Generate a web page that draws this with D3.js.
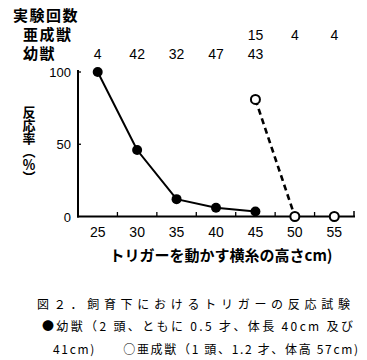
<!DOCTYPE html>
<html>
<head>
<meta charset="utf-8">
<script src="https://cdn.jsdelivr.net/npm/d3@7"></script>
<style>
  body { margin: 0; background: #fff; }
  svg { display: block; }
  text { fill: #000; }
</style>
</head>
<body>
<div id="chart"></div>
<script>
// trigger heights (cm) and response rate (%)
const heights = [25, 30, 35, 40, 45, 50, 55];
const juvenile = [
  { h: 25, v: 100 }, { h: 30, v: 46 }, { h: 35, v: 12 }, { h: 40, v: 6 }, { h: 45, v: 3.5 }
];
const subadult = [
  { h: 45, v: 81 }, { h: 50, v: 0 }, { h: 55, v: 0 }
];
// trial counts shown above the plot
const juvenileCounts = [[25, 4], [30, 42], [35, 32], [40, 47], [45, 43]];
const subadultCounts = [[45, 15], [50, 4], [55, 4]];
const yTicks = [0, 50, 100];

const W = 367, H = 360;
const jp = '"Noto Sans CJK JP", sans-serif';
const latin = '"Liberation Sans", Arial, sans-serif';

const svg = d3.select('#chart').append('svg')
  .attr('width', W)
  .attr('height', H);

const x = d3.scaleBand().domain(heights).range([78, 354]);
const y = d3.scaleLinear().domain([0, 100]).range([216.5, 72]);
const cx = h => x(h) + x.bandwidth() / 2;

// axes
const axis = svg.append('g').attr('stroke', '#000').attr('stroke-width', 2).attr('fill', 'none');
axis.append('line').attr('x1', 78).attr('x2', 78).attr('y1', 70).attr('y2', 217.5);
axis.append('line').attr('x1', 77).attr('x2', 355).attr('y1', 216.5).attr('y2', 216.5);

// x ticks at band boundaries, pointing up
heights.slice(1).forEach(h => {
  svg.append('line')
    .attr('x1', x(h)).attr('x2', x(h))
    .attr('y1', 216.5).attr('y2', 212)
    .attr('stroke', '#000').attr('stroke-width', 1.3);
});
svg.append('line').attr('x1', 354).attr('x2', 354).attr('y1', 216.5).attr('y2', 211)
  .attr('stroke', '#000').attr('stroke-width', 1.5);

yTicks.slice(1).forEach(t => {
  svg.append('line')
    .attr('x1', 78).attr('x2', 81)
    .attr('y1', y(t)).attr('y2', y(t))
    .attr('stroke', '#000').attr('stroke-width', 1.3);
});

// tick labels
svg.selectAll('.xl').data(heights).enter().append('text')
  .attr('x', d => cx(d)).attr('y', 237)
  .attr('text-anchor', 'middle')
  .style('font-family', latin).style('font-size', '14px')
  .text(d => d);

svg.selectAll('.yl').data(yTicks).enter().append('text')
  .attr('x', 71).attr('y', d => y(d) + 5)
  .attr('text-anchor', 'end')
  .style('font-family', latin).style('font-size', '13px')
  .text(d => d);

// axis titles
svg.append('text')
  .attr('x', 221).attr('y', 261)
  .attr('text-anchor', 'middle')
  .style('font-family', jp).style('font-size', '15px').style('font-weight', 'bold')
  .text('トリガーを動かす横糸の高さcm)');

// vertical y title (full-width ％ upright, brackets take their vertical forms)
svg.append('text')
  .attr('transform', 'translate(29,106)')
  .style('writing-mode', 'vertical-rl')
  .style('text-orientation', 'upright')
  .style('font-family', jp).style('font-weight', 'bold').style('font-size', '13px')
  .text('反応率（％）');

// lines
const line = d3.line().x(d => cx(d.h)).y(d => y(d.v));
svg.append('path').datum(juvenile)
  .attr('d', line).attr('fill', 'none').attr('stroke', '#000').attr('stroke-width', 2);
svg.append('path').datum(subadult.slice(0, 2))
  .attr('d', line).attr('fill', 'none').attr('stroke', '#000')
  .attr('stroke-width', 2.6).attr('stroke-dasharray', '6,4');

// markers
svg.selectAll('.jm').data(juvenile).enter().append('circle')
  .attr('cx', d => cx(d.h)).attr('cy', d => y(d.v)).attr('r', 5)
  .attr('fill', '#000');
svg.selectAll('.sm').data(subadult).enter().append('circle')
  .attr('cx', d => cx(d.h)).attr('cy', d => y(d.v)).attr('r', 4.5)
  .attr('fill', '#fff').attr('stroke', '#000').attr('stroke-width', 2);

// trial count table
const jpBold = t => t.style('font-family', jp).style('font-size', '15px')
  .style('font-weight', 'bold').style('letter-spacing', '1.5px');
jpBold(svg.append('text').attr('x', 13).attr('y', 21).text('実験回数'));
jpBold(svg.append('text').attr('x', 23).attr('y', 40).text('亜成獣'));
jpBold(svg.append('text').attr('x', 23).attr('y', 59).text('幼獣'));

svg.selectAll('.sc').data(subadultCounts).enter().append('text')
  .attr('x', d => cx(d[0])).attr('y', 40)
  .attr('text-anchor', 'middle')
  .style('font-family', latin).style('font-size', '14px')
  .text(d => d[1]);
svg.selectAll('.jc').data(juvenileCounts).enter().append('text')
  .attr('x', d => cx(d[0])).attr('y', 59)
  .attr('text-anchor', 'middle')
  .style('font-family', latin).style('font-size', '14px')
  .text(d => d[1]);

// caption
const caption = [
  { t: '図２．飼育下におけるトリガーの反応試験', x: 37, y: 309, w: 313 },
  { t: '●幼獣（2 頭、ともに 0.5 才、体長 40cm 及び', x: 42, y: 331, w: 311 },
  { t: '41cm)　　○亜成獣（1 頭、1.2 才、体高 57cm)', x: 53, y: 354, w: 305 }
];
caption.forEach(c => {
  svg.append('text')
    .attr('x', c.x).attr('y', c.y)
    .attr('textLength', c.w).attr('lengthAdjust', 'spacing')
    .style('font-family', jp).style('font-size', '12px')
    .text(c.t);
});
</script>
</body>
</html>
